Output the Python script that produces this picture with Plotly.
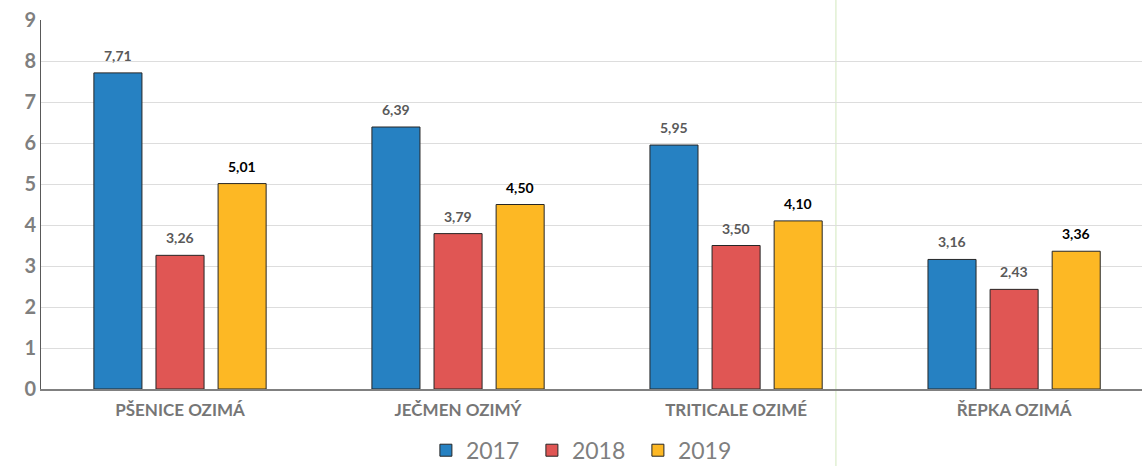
import plotly.graph_objects as go

categories = ["PŠENICE OZIMÁ", "JEČMEN OZIMÝ", "TRITICALE OZIMÉ", "ŘEPKA OZIMÁ"]
years = ["2017", "2018", "2019"]
v2017 = [7.71, 6.39, 5.95, 3.16]
v2018 = [3.26, 3.79, 3.50, 2.43]
v2019 = [5.01, 4.50, 4.10, 3.36]
y_ticks = [0, 1, 2, 3, 4, 5, 6, 7, 8, 9]

series = [v2017, v2018, v2019]
colors = ["#2681C2", "#E05654", "#FDB824"]
label_colors = ["#595959", "#595959", "#000000"]
group_shift = [-62, 0, 62]  # pixel offset of each year's bar within its group
FONT = "Lato"

fig = go.Figure()
annotations = []
for name, vals, col, lc, sh in zip(years, series, colors, label_colors, group_shift):
    fig.add_trace(go.Bar(
        name=name, x=categories, y=vals,
        marker=dict(color=col, line=dict(color="#262626", width=1)),
        hoverinfo="x+y+name",
    ))
    for c, v in zip(categories, vals):
        annotations.append(dict(
            x=c, y=v, xref="x", yref="y", text=f"{v:.2f}".replace(".", ","),
            showarrow=False, xanchor="center", yanchor="bottom",
            xshift=sh, yshift=7,
            font=dict(family=FONT, size=14, color=lc, weight="bold"),
        ))

fig.update_layout(
    width=1142, height=466,
    margin=dict(l=41, r=0, t=20, b=77, autoexpand=False),
    paper_bgcolor="white", plot_bgcolor="white",
    separators=",.",
    barmode="group", bargap=0.33, bargroupgap=0.226,
    showlegend=True,
    legend=dict(orientation="h", x=0.494, xanchor="center", y=-0.166, yanchor="middle",
                font=dict(family=FONT, size=23, color="#7F7F7F"),
                itemwidth=30, entrywidth=61, entrywidthmode="pixels",
                traceorder="normal"),
    xaxis=dict(range=[-0.5, 3.46], showgrid=False, showline=True,
               linecolor="#808080", linewidth=1.5, ticks="", ticklabelstandoff=5,
               tickfont=dict(family=FONT, size=17, color="#767676", weight="bold")),
    yaxis=dict(range=[0, 9], tickvals=y_ticks, showgrid=True, gridcolor="#DDDDDD",
               gridwidth=1, showline=True, linecolor="#595959", linewidth=1,
               zeroline=False, ticks="",
               tickfont=dict(family=FONT, size=20, color="#7F7F7F", weight="bold")),
    annotations=annotations,
    shapes=[dict(type="line", xref="paper", yref="paper", x0=0.722, x1=0.722,
                 y0=1.06, y1=-0.21, line=dict(color="#D2E8BD", width=1), layer="below")],
)

fig.write_html("out.html", config={"displayModeBar": False},
               post_script="document.body.style.margin='0';document.body.style.overflow='hidden';")
